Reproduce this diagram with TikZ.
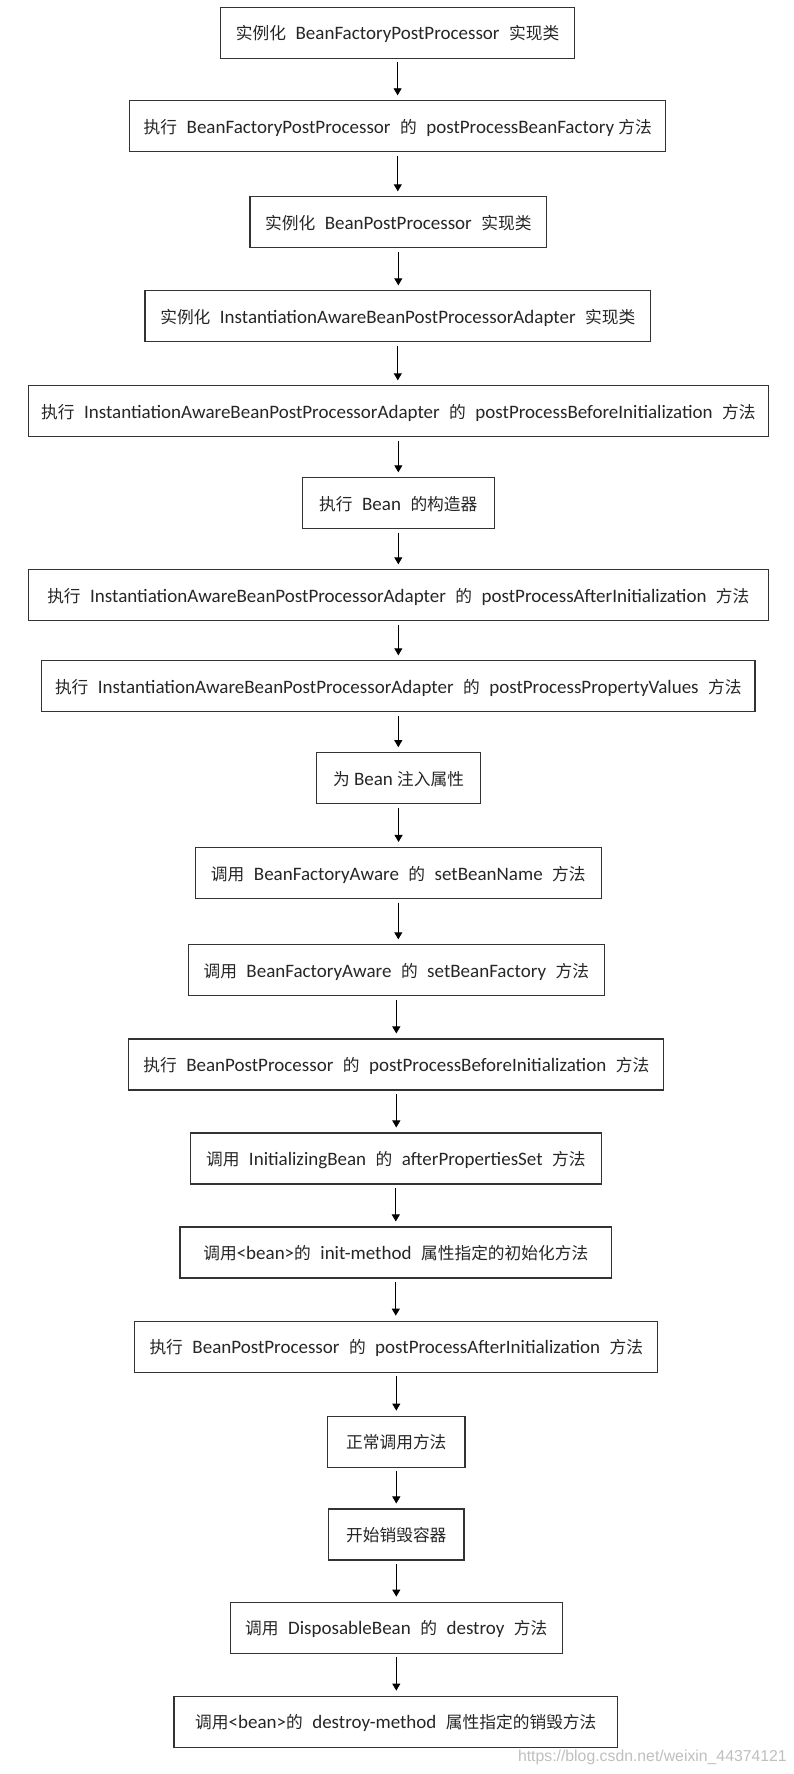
\documentclass[tikz,border=0pt]{standalone}
\usepackage{fontspec}
\setmainfont{Carlito}
\newfontfamily\cjk{Noto Sans CJK SC}[Scale=0.88]
\newfontfamily\wmfont{Liberation Sans}
\usetikzlibrary{arrows.meta}
\newcommand\zh[1]{{\cjk #1}}
\newcommand\gp{\hspace{9.5pt}}
\tikzset{
  box/.style={draw=black!80, line width=1.1pt, fill=white, inner sep=0pt, minimum height=51pt,
    text height=17pt, text depth=3pt,
    font=\fontsize{19pt}{21pt}\selectfont, text=black!85},
  flow/.style={draw=black, line width=0.9pt, -{Triangle[length=7pt,width=8pt]}, shorten <=3.5pt, shorten >=5pt}
}
\begin{document}
\begin{tikzpicture}[x=1pt,y=1pt]
\useasboundingbox[fill=white] (0,0) rectangle (793,-1774);
\node[box, minimum width=354pt]   (n1)  at (397.6,-32.8)   {\zh{实例化}\gp BeanFactoryPostProcessor\gp\zh{实现类}};
\node[box, minimum width=536pt]   (n2)  at (397.8,-126.35) {\zh{执行}\gp BeanFactoryPostProcessor\gp\zh{的}\gp postProcessBeanFactory \zh{方法}};
\node[box, minimum width=296.6pt] (n3)  at (398.3,-222.35) {\zh{实例化}\gp BeanPostProcessor\gp\zh{实现类}};
\node[box, minimum width=505.6pt] (n4)  at (397.8,-316.35) {\zh{实例化}\gp InstantiationAwareBeanPostProcessorAdapter\gp\zh{实现类}};
\node[box, minimum width=739.9pt] (n5)  at (398.35,-411.35) {\zh{执行}\gp InstantiationAwareBeanPostProcessorAdapter\gp\zh{的}\gp postProcessBeforeInitialization\gp\zh{方法}};
\node[box, minimum width=192.2pt] (n6)  at (398.3,-503.35) {\zh{执行}\gp Bean\gp\zh{的构造器}};
\node[box, minimum width=739.9pt] (n7)  at (398.35,-595.35) {\zh{执行}\gp InstantiationAwareBeanPostProcessorAdapter\gp\zh{的}\gp postProcessAfterInitialization\gp\zh{方法}};
\node[box, minimum width=713.4pt] (n8)  at (398.3,-686.35) {\zh{执行}\gp InstantiationAwareBeanPostProcessorAdapter\gp\zh{的}\gp postProcessPropertyValues\gp\zh{方法}};
\node[box, minimum width=164.3pt] (n9)  at (398.55,-778.2) {\zh{为} Bean \zh{注入属性}};
\node[box, minimum width=406.2pt] (n10) at (398.3,-873)    {\zh{调用}\gp BeanFactoryAware\gp\zh{的}\gp setBeanName\gp\zh{方法}};
\node[box, minimum width=416.4pt] (n11) at (396.3,-970.35) {\zh{调用}\gp BeanFactoryAware\gp\zh{的}\gp setBeanFactory\gp\zh{方法}};
\node[box, minimum width=535pt]   (n12) at (396.3,-1064.5) {\zh{执行}\gp BeanPostProcessor\gp\zh{的}\gp postProcessBeforeInitialization\gp\zh{方法}};
\node[box, minimum width=411.2pt] (n13) at (395.8,-1158.5) {\zh{调用}\gp InitializingBean\gp\zh{的}\gp afterPropertiesSet\gp\zh{方法}};
\node[box, minimum width=431.6pt] (n14) at (395.8,-1252.5) {\zh{调用}<bean>\zh{的}\gp init-method\gp\zh{属性指定的初始化方法}};
\node[box, minimum width=522.8pt] (n15) at (396.3,-1346.65) {\zh{执行}\gp BeanPostProcessor\gp\zh{的}\gp postProcessAfterInitialization\gp\zh{方法}};
\node[box, minimum width=137.4pt] (n16) at (396.3,-1441.65) {\zh{正常调用方法}};
\node[box, minimum width=135.4pt] (n17) at (396.3,-1534.5) {\zh{开始销毁容器}};
\node[box, minimum width=332.2pt] (n18) at (396.3,-1627.65) {\zh{调用}\gp DisposableBean\gp\zh{的}\gp destroy\gp\zh{方法}};
\node[box, minimum width=443.6pt] (n19) at (395.8,-1721.65) {\zh{调用}<bean>\zh{的}\gp destroy-method\gp\zh{属性指定的销毁方法}};
\foreach \a/\b in {n1/n2,n2/n3,n3/n4,n4/n5,n5/n6,n6/n7,n7/n8,n8/n9,n9/n10,n10/n11,n11/n12,n12/n13,n13/n14,n14/n15,n15/n16,n16/n17,n17/n18,n18/n19}
  \draw[flow] (\a.south) -- (\a.south |- \b.north);
\node[anchor=south east, inner sep=0pt, text=black!25, font=\wmfont\fontsize{15.8pt}{17pt}\selectfont] (wm) at (787,-1765) {https://blog.csdn.net/weixin\_44374121};
\end{tikzpicture}
\end{document}
